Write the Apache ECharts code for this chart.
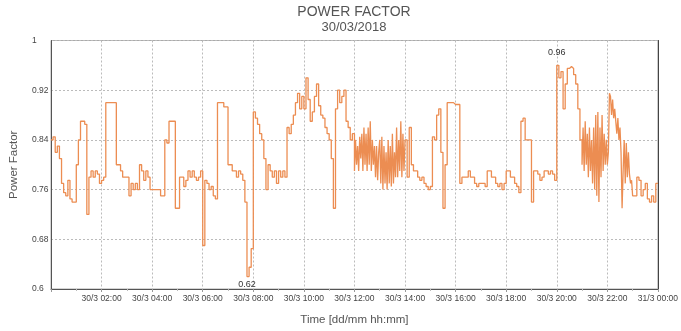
<!DOCTYPE html>
<html>
<head>
<meta charset="utf-8">
<script src="https://cdn.jsdelivr.net/npm/echarts@6/dist/echarts.min.js"></script>
<style>
  html, body { margin: 0; padding: 0; background: #fff; }
  #chart-1 { width: 681px; height: 331px; }
</style>
</head>
<body>
<div id="chart-1"></div>
<script>
// power factor readings; one row = one hour
// 5-minute readings
const pfNight = [
    0.84, 0.845, 0.82, 0.83, 0.81, 0.77, 0.755, 0.75, 0.775, 0.745, 0.74, 0.74,   // 00
    0.80, 0.84, 0.87, 0.87, 0.865, 0.72, 0.78, 0.79, 0.78, 0.79, 0.785, 0.77,     // 01
    0.775, 0.78, 0.90, 0.90, 0.90, 0.90, 0.90, 0.80, 0.80, 0.79, 0.78, 0.78,      // 02
    0.78, 0.75, 0.77, 0.76, 0.77, 0.76, 0.80, 0.79, 0.775, 0.79, 0.78, 0.76,      // 03
    0.76, 0.76, 0.76, 0.76, 0.75, 0.75, 0.84, 0.835, 0.87, 0.87, 0.87, 0.73,      // 04
    0.73, 0.78, 0.78, 0.765, 0.775, 0.79, 0.78, 0.79, 0.78, 0.775, 0.78, 0.79     // 05
];
const pfMorning = [
    0.67, 0.775, 0.77, 0.76, 0.765, 0.75, 0.745, 0.90, 0.90, 0.90, 0.893, 0.893,  // 06
    0.80, 0.80, 0.79, 0.79, 0.78, 0.79, 0.785, 0.775, 0.74, 0.62, 0.635, 0.665,   // 07
    0.885, 0.875, 0.865, 0.85, 0.84, 0.81, 0.76, 0.80, 0.79, 0.78, 0.79, 0.77,    // 08
    0.79, 0.78, 0.79, 0.78, 0.86, 0.85, 0.865, 0.88, 0.90, 0.915, 0.89, 0.91,     // 09
    0.89, 0.94, 0.905, 0.87, 0.885, 0.91, 0.93, 0.895, 0.88, 0.875, 0.86, 0.85,   // 10
    0.84, 0.81, 0.73, 0.89, 0.92, 0.90, 0.91, 0.92, 0.87, 0.86, 0.84, 0.85        // 11
];
// 2.5-minute readings (busy period)
const pfNoon = [
    0.79, 0.84, 0.80, 0.83, 0.79, 0.845, 0.81, 0.85, 0.79, 0.86, 0.80, 0.85,
    0.79, 0.86, 0.80, 0.87, 0.79, 0.84, 0.80, 0.83, 0.78, 0.83, 0.775, 0.82,      // 12
    0.84, 0.77, 0.845, 0.76, 0.83, 0.77, 0.82, 0.76, 0.84, 0.77, 0.83, 0.765,
    0.85, 0.77, 0.82, 0.78, 0.86, 0.78, 0.84, 0.79, 0.87, 0.78, 0.85, 0.79        // 13
];
// 5-minute readings
const pfAfternoon = [
    0.84, 0.78, 0.86, 0.80, 0.79, 0.79, 0.78, 0.775, 0.78, 0.77, 0.765, 0.76,     // 14
    0.765, 0.845, 0.84, 0.88, 0.89, 0.82, 0.73, 0.80, 0.90, 0.90, 0.90, 0.897,    // 15
    0.897, 0.897, 0.77, 0.78, 0.78, 0.78, 0.79, 0.78, 0.78, 0.77, 0.765, 0.77,    // 16
    0.77, 0.77, 0.765, 0.79, 0.79, 0.78, 0.78, 0.77, 0.765, 0.77, 0.76, 0.77      // 17
];
const pfEvening = [
    0.79, 0.79, 0.78, 0.78, 0.77, 0.765, 0.755, 0.87, 0.875, 0.84, 0.84, 0.84,    // 18
    0.74, 0.79, 0.79, 0.785, 0.775, 0.78, 0.79, 0.79, 0.785, 0.79, 0.785, 0.775,  // 19
    0.96, 0.94, 0.95, 0.89, 0.93, 0.955, 0.958, 0.955, 0.945, 0.93, 0.89, 0.84    // 20
];
// 2.5-minute readings (busy period)
const pfLate = [
    0.80, 0.86, 0.79, 0.87, 0.80, 0.85, 0.78, 0.86, 0.79, 0.84, 0.77, 0.86,
    0.76, 0.88, 0.75, 0.885, 0.74, 0.86, 0.78, 0.88, 0.79, 0.85, 0.80, 0.84,      // 21
    0.80, 0.82, 0.915, 0.91, 0.88, 0.905, 0.875, 0.89, 0.87, 0.85, 0.875, 0.84,
    0.86, 0.82, 0.73, 0.79, 0.84, 0.77, 0.835, 0.78, 0.82, 0.785, 0.77, 0.775     // 22
];
// 5-minute readings
const pfMidnight = [
    0.75, 0.75, 0.78, 0.775, 0.75, 0.76, 0.77, 0.745, 0.74, 0.75, 0.74, 0.77      // 23
];

const dayLabels = ['30/3', '31/3'];
const yTicks = [0.6, 0.68, 0.76, 0.84, 0.92, 1];

// [start minute, minutes per reading, readings]
const segments = [
    [0, 5, pfNight],
    [360, 5, pfMorning],
    [720, 2.5, pfNoon],
    [840, 5, pfAfternoon],
    [1080, 5, pfEvening],
    [1260, 2.5, pfLate],
    [1380, 5, pfMidnight]
];
const seriesData = [];
segments.forEach(([start, step, arr]) => {
    arr.forEach((v, i) => seriesData.push([start + i * step, v]));
});
seriesData.push([1440, pfMidnight[pfMidnight.length - 1]]);

const pad = n => (n < 10 ? '0' : '') + n;
const TheChart = echarts.init(document.getElementById('chart-1'));

TheChart.setOption({
    animation: false,
    title: {
        text: 'POWER FACTOR',
        subtext: '30/03/2018',
        left: 354,
        textAlign: 'center',
        top: 5,
        padding: 0,
        itemGap: 2,
        textStyle: { fontFamily: 'Liberation Sans', fontSize: 14, fontWeight: 'normal', color: '#555' },
        subtextStyle: { fontFamily: 'Liberation Sans', fontSize: 13, color: '#555' }
    },
    grid: {
        left: 49, right: 22, top: 40.5, bottom: 40,
        show: true, borderColor: '#aaa', borderWidth: 1
    },
    xAxis: {
        type: 'value',
        min: 0, max: 1440, interval: 120,
        name: 'Time [dd/mm hh:mm]',
        nameLocation: 'middle',
        nameGap: 25,
        nameTextStyle: { fontFamily: 'Liberation Sans', fontSize: 11.5, color: '#555' },
        axisLine: { lineStyle: { color: '#555' } },
        axisTick: { show: true, length: 3, lineStyle: { color: '#999' } },
        minorTick: { show: true, splitNumber: 2, length: 2, lineStyle: { color: '#bbb' } },
        axisLabel: {
            showMinLabel: false,
            margin: 5,
            fontFamily: 'Liberation Sans', fontSize: 8.5, color: '#444',
            formatter: v => (v >= 1440 ? dayLabels[1] : dayLabels[0]) + ' ' +
                pad(Math.floor(v / 60) % 24) + ':' + pad(v % 60)
        },
        splitLine: { show: true, lineStyle: { color: '#bbb', type: [2, 2] } }
    },
    yAxis: [{
        type: 'value',
        min: yTicks[0], max: yTicks[yTicks.length - 1], interval: 0.08,
        name: 'Power Factor',
        nameLocation: 'middle',
        nameGap: 31,
        nameTextStyle: { fontFamily: 'Liberation Sans', fontSize: 11.5, color: '#555' },
        axisLine: { show: true, lineStyle: { color: '#555' } },
        axisTick: { show: false },
        axisLabel: {
            align: 'left',
            margin: 19,
            fontFamily: 'Liberation Sans', fontSize: 8.5, color: '#444',
            formatter: v => String(Math.round(v * 100) / 100)
        },
        splitLine: { show: true, lineStyle: { color: '#bbb', type: [2, 2] } }
    }, {
        type: 'value',
        position: 'right',
        min: yTicks[0], max: yTicks[yTicks.length - 1], interval: 0.08,
        axisLine: { show: true, lineStyle: { color: '#444' } },
        axisTick: { show: false },
        axisLabel: { show: false },
        splitLine: { show: false }
    }],
    series: [{
        name: 'Power Factor',
        type: 'line',
        step: 'end',
        showSymbol: false,
        data: seriesData,
        lineStyle: { color: '#ec8d52', width: 1.3 },
        itemStyle: { color: '#ec8d52' },
        markPoint: {
            symbolSize: 0,
            label: {
                show: true,
                fontFamily: 'Liberation Sans', fontSize: 9, color: '#333',
                formatter: p => p.value.toFixed(2)
            },
            data: [
                { type: 'max', valueIndex: 1, label: { position: 'top', distance: 8 } },
                { type: 'min', valueIndex: 1, label: { position: 'bottom', distance: 3 } }
            ]
        }
    }]
});
</script>
</body>
</html>
